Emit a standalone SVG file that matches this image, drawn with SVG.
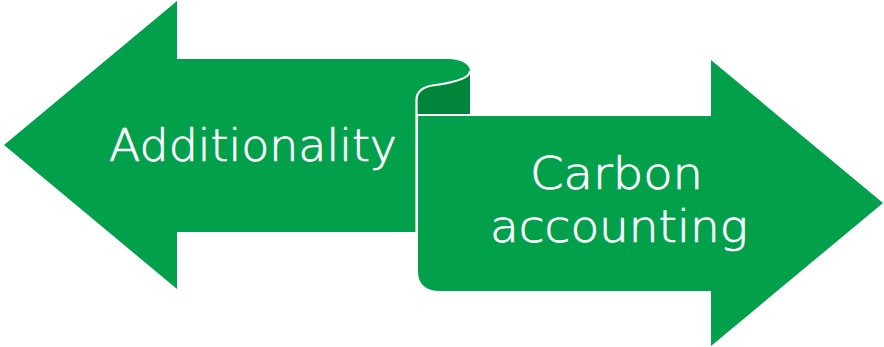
<svg xmlns="http://www.w3.org/2000/svg" width="884" height="347" viewBox="0 0 884 347">
  <style>
    .body { fill: #02A04B; }
    .back { fill: #00853B; }
    .edge { fill: none; stroke: #FFFFFF; stroke-width: 2.2; }
    .label { fill: #FFFFFF; stroke: #FFFFFF; stroke-width: 0.7; font-family: "DejaVu Sans", "Liberation Sans", sans-serif; font-weight: 200; font-size: 44px; }
  </style>
  <rect width="884" height="347" fill="#FFFFFF"/>

  <!-- left-pointing arrow with rolled scroll end -->
  <g id="additionality">
    <path class="back" d="M417,100 C417,90 426,86 436,85 C450,83 470,79 470,71 L470,114 L417,114 Z"/>
    <path class="body" d="M4,145 L177,1 L177,59 L448,59 C461,59 470,64 470,71 C470,79 450,83 436,85 C426,86 417,90 417,100 L416,104 L416,232 L177,232 L177,289 Z"/>
    <text class="label" x="109" y="161" font-size="46" textLength="288" lengthAdjust="spacingAndGlyphs">Additionality</text>
  </g>

  <!-- right-pointing arrow unrolling from the scroll -->
  <g id="carbon-accounting">
    <path class="body" d="M418,116 L711,116 L711,60 L883,203 L711,346 L711,291 L440,291 C426,291 418,284 418,272 Z"/>
    <text class="label" x="530" y="189" textLength="173" lengthAdjust="spacingAndGlyphs">Carbon</text>
    <text class="label" x="490" y="242" textLength="258" lengthAdjust="spacingAndGlyphs">accounting</text>
  </g>

  <!-- fold lines of the scroll -->
  <g id="connectors">
    <path class="edge" d="M470,71 C470,79 450,83 436,85 C426,86 416.5,90 416.5,100 L416.5,232"/>
    <path class="edge" d="M417,115 L472,115"/>
  </g>
</svg>
